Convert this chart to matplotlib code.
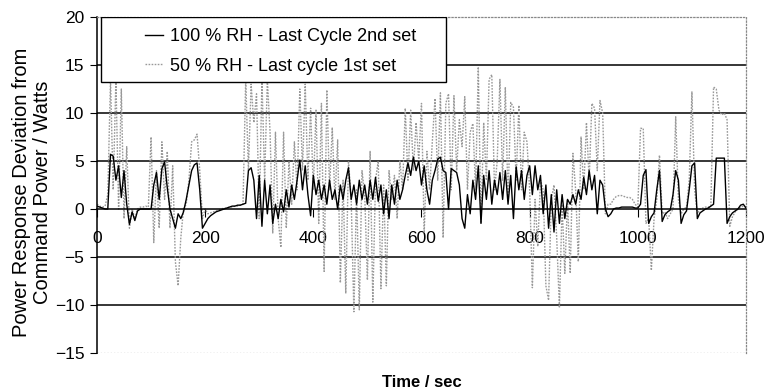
import numpy as np
import matplotlib
matplotlib.use("Agg")
import matplotlib.pyplot as plt
from matplotlib.patches import Rectangle

plt.rcParams['font.family'] = ['Liberation Sans', 'DejaVu Sans']

# muestreo cada 5 s
tiempo = np.arange(0, 1201, 5)

rh100 = [0.3, 0.2, 0.1, 0.0, 0.0, 5.7, 5.5, 3.0, 4.5, 1.2,
         4.0, 0.5, -1.6, -0.3, -1.2, -0.2, 0.0, 0.0, 0.0, 0.0,
         0.0, 2.5, 3.8, 1.0, 4.2, 4.9, 2.2, 0.0, -1.0, -2.0,
         -0.5, -1.0, -0.3, 1.0, 2.5, 4.0, 4.6, 4.8, 2.0, -2.0,
         -1.5, -1.0, -0.7, -0.5, -0.3, -0.2, -0.1, 0.0, 0.1, 0.2,
         0.3, 0.3, 0.4, 0.4, 0.5, 0.6, 4.0, 4.3, 3.0, -1.0,
         3.5, -1.8, 3.0, -0.5, 2.5, -1.5, 0.5, -1.0, 1.0, -0.3,
         2.0, 0.2, 2.5, 1.0, 3.0, 5.1, 2.0, 4.5, 1.5, -0.7,
         3.5, 1.5, 3.0, 1.0, 2.5, 0.5, 3.0, 1.0, 2.0, 0.0,
         2.5, 1.0, 3.0, 4.3, 1.0, 2.5, 0.5, 3.0, 1.0, 2.5,
         0.5, 3.0, 1.0, 3.3, 0.8, 2.5, -0.5, 2.0, -1.0, 2.5,
         0.5, 3.0, 1.0, 2.0, 3.5, 4.8, 3.5, 5.4, 4.0, 5.0,
         2.5, 4.5, 2.0, 0.5, 3.0, 4.0, 5.2, 5.4, 4.0, 3.8,
         0.0, 4.2, 4.0, 3.8, 2.5, -1.0, -2.0, 1.5, -0.5, 3.0,
         1.0, 4.5, -1.5, 3.5, 1.0, 4.0, 0.5, 3.0, 1.5, 3.8,
         1.0, 4.0, 0.5, 3.5, -1.0, 4.4, 2.0, 4.0, 1.0, 3.5,
         4.5, 1.5, 4.5, 2.0, 3.5, -0.5, 2.5, -2.0, 1.5, -2.4,
         2.0, -1.5, 1.5, -1.0, 1.0, 0.5, 1.5, 0.5, 2.0, 1.0,
         3.3, 1.5, 4.0, 2.0, 3.5, -0.5, 3.0, 2.5, 0.0, -0.8,
         -0.5, 0.0, 0.1, 0.1, 0.2, 0.2, 0.2, 0.2, 0.2, 0.1,
         0.1, 0.5, 3.5, 4.1, -1.5, -0.8, -0.4, 2.0, 4.0, -1.3,
         -0.6, -0.3, -0.1, 1.5, 4.0, 3.0, -1.5, -0.6, -0.2, 2.0,
         4.5, 4.8, -1.0, -0.4, -0.2, 0.0, 0.1, 0.3, 0.5, 5.3,
         5.3, 5.3, 5.3, -1.5, -0.8, -0.4, -0.2, 0.0, 0.4, 0.5,
         0.1]

rh50 = [0.5, 0.3, 0.2, 0.3, 1.5, 13.5, 2.0, 13.5, 0.0, 12.5,
        -1.0, 6.5, -2.0, 0.0, -1.0, 0.0, 0.2, 0.2, 0.3, 0.2,
        7.5, -3.5, 4.0, -2.0, 7.0, 1.0, 6.0, -2.0, 4.5, -5.5,
        -8.0, -3.0, 0.0, 0.5, 3.0, 7.0, 7.2, 7.8, 4.0, -1.0,
        0.0, -0.5, -0.4, -0.3, -0.2, -0.1, 0.0, 0.1, 0.1, 0.2,
        0.2, 0.3, 0.3, 0.4, 0.5, 13.5, 4.0, 13.0, 9.0, 12.0,
        -1.0, 13.5, 3.0, 13.5, 8.0, -2.5, 8.0, -1.0, -4.0, 8.0,
        -2.0, 5.0, 0.5, 7.0, 2.0, 12.5, 4.0, 13.0, 3.0, 10.5,
        2.0, 10.3, -1.5, 11.0, -6.5, 12.4, 2.0, 8.5, 1.0, 7.2,
        -7.7, 3.0, -8.8, 5.0, 1.0, -10.7, 2.0, -10.5, 4.0, 1.5,
        -7.4, 6.0, -9.7, 3.0, 5.0, -8.3, 2.5, -8.0, 4.0, 1.0,
        3.5, -1.0, 5.0, 2.0, 10.5, 3.0, 10.3, 4.0, 9.0, 5.0,
        11.0, -2.5, 6.0, 2.0, 7.0, 11.5, 3.0, 12.1, -3.0, 11.0,
        12.0, 2.0, 11.8, 4.0, 9.3, 6.5, 11.7, 2.0, 8.0, 8.9,
        2.0, 14.8, -1.5, 9.0, 3.0, 13.5, 14.0, 2.0, 5.0, 13.5,
        3.0, 12.7, 1.0, 11.1, 10.6, 3.0, 10.8, 2.0, 8.0, 7.0,
        2.0, -8.2, 1.0, -3.9, 3.0, 2.0, -8.0, -9.5, 1.0, 2.5,
        -3.0, -10.3, 0.5, -6.7, 1.0, -6.7, 5.8, 2.0, -5.5, 7.5,
        2.0, 9.0, 3.0, 11.0, 10.5, 4.0, 11.3, 10.0, -0.5, 0.5,
        0.5, 1.0, 1.3, 1.4, 1.4, 1.3, 1.2, 1.2, 1.0, 0.5,
        0.2, 8.4, 8.4, -1.5, -1.0, -6.4, -1.0, 1.0, 5.6, -0.5,
        -0.3, -1.0, -0.5, 0.0, 9.6, 1.0, -0.5, 0.0, 0.2, 3.0,
        12.2, 2.0, -0.5, 0.0, 0.1, 0.2, 0.2, 0.3, 12.7, 12.5,
        10.3, 9.8, 10.0, 9.3, -1.8, -0.8, -0.3, 0.0, 0.2, 0.3,
        0.2]

nome_100 = '100 % RH - Last Cycle 2nd set'
nome_50 = '50 % RH - Last cycle 1st set'
xticks = [0, 200, 400, 600, 800, 1000, 1200]
yticks = [-15, -10, -5, 0, 5, 10, 15, 20]

fig = plt.figure(figsize=(7.66, 3.92), dpi=100)
ax = fig.add_axes([0.1266, 0.0995, 0.8473, 0.8571])

# linhas de grade horizontais
for g in [-10, -5, 5, 10, 15]:
    ax.axhline(g, color='black', lw=1.1, zorder=1)
ax.axhline(-15, color='#888888', lw=0.9, ls=':', zorder=1)

l50, = ax.plot(tiempo, rh50, color='#999999', lw=1.0, ls=(0, (1.2, 1.0)), zorder=2)
l100, = ax.plot(tiempo, rh100, color='black', lw=1.0, zorder=3)

ax.set_xlim(0, 1200)
ax.set_ylim(-15, 20)
ax.set_xticks(xticks)
ax.set_yticks(yticks)

ax.spines['bottom'].set_position(('data', 0))
ax.spines['bottom'].set_linewidth(1.1)
ax.spines['left'].set_linewidth(1.1)
for s in ['top', 'right']:
    ax.spines[s].set_color('#888888')
    ax.spines[s].set_linestyle(':')
    ax.spines[s].set_linewidth(0.9)

ax.tick_params(axis='x', direction='out', length=6, pad=10, labelsize=12.5)
ax.tick_params(axis='y', direction='out', length=5, pad=4, labelsize=12.5)

# caixa da legenda
ax.add_patch(Rectangle((0.006, 0.8065), 0.532, 0.1935, transform=ax.transAxes,
                       facecolor='white', edgecolor='black', lw=1.0, zorder=4))
leg = ax.legend([l100, l50], [nome_100, nome_50], loc='upper left',
                bbox_to_anchor=(0.074, 0.966), frameon=False, fontsize=13,
                borderpad=0, borderaxespad=0, handlelength=1.0,
                handletextpad=0.4, labelspacing=0.67)
leg.set_zorder(5)

fig.text(0.042, 0.51, 'Power Response Deviation from\nCommand Power / Watts',
         rotation=90, ha='center', va='center', fontsize=14.5,
         multialignment='center', linespacing=1.1)
ax.set_xlabel('Time / sec', fontsize=12, fontweight='bold')
ax.xaxis.set_label_coords(0.5, -0.065)

fig.savefig('out.png', dpi=100)
